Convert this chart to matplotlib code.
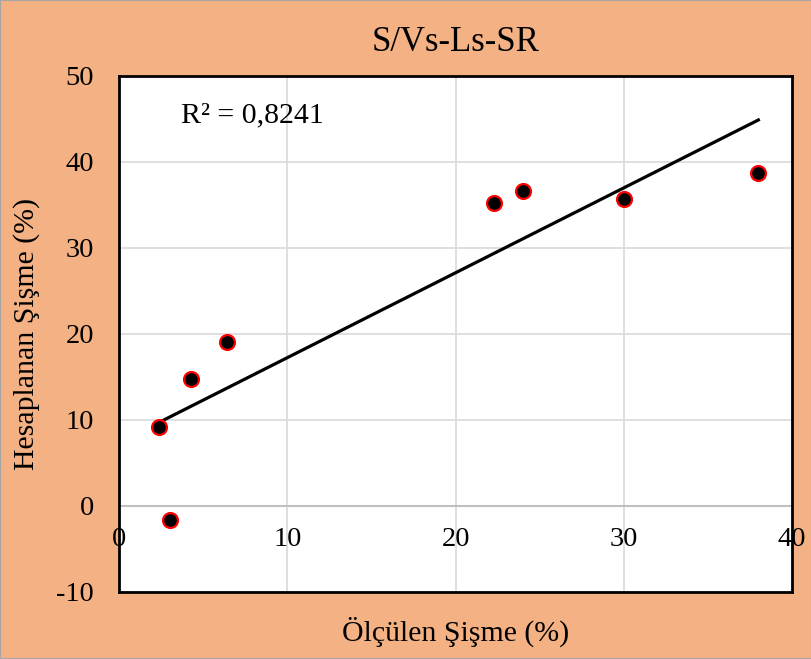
import numpy as np
import matplotlib.pyplot as plt

plt.rcParams['font.family'] = ['Liberation Serif', 'DejaVu Serif']
plt.rcParams['axes.unicode_minus'] = False

# measured vs calculated swelling (%)
measured = [2.4, 3.0, 4.3, 6.4, 22.3, 24.0, 30.0, 38.0]
calculated = [9.2, -1.6, 14.8, 19.1, 35.2, 36.6, 35.7, 38.7]
x_ticks = [0, 10, 20, 30, 40]
y_ticks = [-10, 0, 10, 20, 30, 40, 50]

fig = plt.figure(figsize=(8.12, 6.59), dpi=100, facecolor='#F4B183')
fig.patches.append(plt.Rectangle((0, 0), 1, 1, transform=fig.transFigure,
                                 fill=False, edgecolor='#A6A6A6', linewidth=1.5))
ax = fig.add_axes([0.1466, 0.1017, 0.8288, 0.783])
ax.set_facecolor('white')

# linear trend line
slope, intercept = np.polyfit(measured, calculated, 1)
xs = np.array([min(measured), max(measured)])
ax.plot(xs, slope * xs + intercept, color='black', linewidth=2.3, zorder=3)
ax.scatter(measured, calculated, s=115, color='black', edgecolors='red',
           linewidths=1.6, zorder=4)

ax.set_xlim(0, 40)
ax.set_ylim(-10, 50)
ax.set_yticks(y_ticks)
ax.set_xticks(x_ticks)
ax.set_xticklabels([])
for x in x_ticks:
    ax.text(x, -3.9, str(x), ha='center', va='center', fontsize=20.5)
ax.tick_params(axis='both', length=0, labelsize=20.5)
ax.tick_params(axis='y', pad=18)
ax.grid(color='#D9D9D9', linewidth=1.2)
ax.axhline(0, color='#BFBFBF', linewidth=1.5, zorder=1)
ax.set_axisbelow(True)
for s in ax.spines.values():
    s.set_linewidth(2)
    s.set_color('black')

ax.text(3.7, 44.6, 'R² = 0,8241', fontsize=21.5)
ax.set_title('S/Vs-Ls-SR', fontsize=25, pad=18)
ax.set_xlabel('Ölçülen Şişme (%)', fontsize=21.5, labelpad=14)
ax.set_ylabel('Hesaplanan Şişme (%)', fontsize=21.5, labelpad=12)

fig.savefig('out.png', dpi=100, facecolor=fig.get_facecolor())
